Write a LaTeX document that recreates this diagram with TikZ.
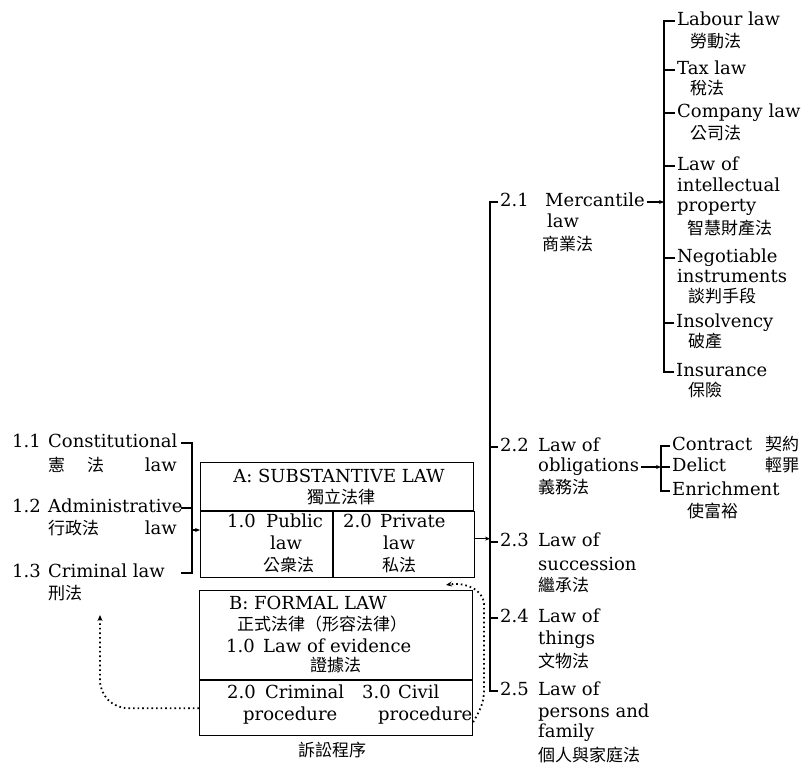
\documentclass[tikz,border=0pt]{standalone}
\usepackage{fontspec}
\setmainfont{DejaVu Serif}
\newfontfamily\cjkfont{Noto Sans CJK TC}
\usetikzlibrary{arrows.meta,positioning}

\newcommand{\numlab}[2]{\makebox[#1][l]{#2}}

\begin{document}
\begin{tikzpicture}[
    x=1pt, y=-1pt,
    every node/.style={inner sep=0pt, text height=11pt, text depth=3pt},
    lat/.style={anchor=west, font=\fontsize{18}{20}\selectfont},
    zh/.style={anchor=west, font=\cjkfont\fontsize{17}{20}\selectfont},
    box/.style={draw, line width=1.1pt, anchor=north west},
    line/.style={line width=1.1pt},
    arr/.style={-{Stealth[length=5pt,width=4pt]}, line width=1.1pt},
    dotarr/.style={-{Stealth[length=6pt,width=5pt]}, line width=1.8pt, dash pattern=on 1.6pt off 3pt},
]
\useasboundingbox (0,0) rectangle (801,766);

% Boxes
\node[box, minimum width=273pt, minimum height=48pt] (Atop) at (200,462) {};
\node[box, minimum width=132pt, minimum height=66pt] (Apub) at (Atop.south west) {};
\node[box, minimum width=141pt, minimum height=66pt] (Apriv) at (Apub.north east) {};
\node[box, minimum width=273pt, minimum height=89pt] (Btop) at (199,590) {};
\node[box, minimum width=273pt, minimum height=55pt] (Bproc) at (Btop.south west) {};

% A: substantive law
\node[lat, anchor=center] (Atitle) at (339,478) {A: SUBSTANTIVE LAW};
\node[zh, anchor=center] (Atitlez) at (341,499) {獨立法律};
\node[lat] (pubA) at (227,523) {\numlab{39pt}{1.0}Public};
\node[lat] (pubB) at (270,545) {law};
\node[zh] (pubC) at (263,567) {公衆法};
\node[lat] (privA) at (343,523) {\numlab{37pt}{2.0}Private};
\node[lat] (privB) at (383,545) {law};
\node[zh] (privC) at (382,567) {私法};

% B: formal law
\node[lat] (Btitle) at (229,605) {B: FORMAL LAW};
\node[zh] (Btitlez) at (237,626) {正式法律（形容法律）};
\node[lat] (evA) at (226,648) {\numlab{37pt}{1.0}Law of evidence};
\node[zh] (evB) at (310,667) {證據法};
\node[lat] (crimA) at (227,694) {\numlab{38pt}{2.0}Criminal};
\node[lat] (crimB) at (243,716) {procedure};
\node[lat] (civA) at (362,694) {\numlab{36pt}{3.0}Civil};
\node[lat] (civB) at (378,716) {procedure};
\node[zh] (proc) at (298,752) {訴訟程序};

% Public law branches
\node[lat] (con) at (12,443) {\numlab{36pt}{1.1}Constitutional};
\node[zh] (conz) at (48,467) {憲\hspace{22pt}法};
\node[lat, anchor=east] (conl) at (177,467) {law};
\node[lat] (adm) at (12,508) {\numlab{36pt}{1.2}Administrative};
\node[zh] (admz) at (48,530) {行政法};
\node[lat, anchor=east] (adml) at (177,530) {law};
\node[lat] (cri) at (12,573) {\numlab{36pt}{1.3}Criminal law};
\node[zh] (criz) at (48,595) {刑法};

% Private law branches
\node[lat] (merc) at (500,202) {\numlab{45pt}{2.1}Mercantile};
\node[lat] (mercb) at (547,223) {law};
\node[zh] (mercc) at (542,246) {商業法};
\node[lat] (obl) at (500,447) {\numlab{38pt}{2.2}Law of};
\node[lat] (oblb) at (538,467) {obligations};
\node[zh] (oblc) at (538,489) {義務法};
\node[lat] (suc) at (500,542) {\numlab{38pt}{2.3}Law of};
\node[lat] (sucb) at (538,566) {succession};
\node[zh] (succ) at (538,587) {繼承法};
\node[lat] (thi) at (500,618) {\numlab{38pt}{2.4}Law of};
\node[lat] (thib) at (538,640) {things};
\node[zh] (thic) at (538,663) {文物法};
\node[lat] (per) at (500,691) {\numlab{38pt}{2.5}Law of};
\node[lat] (perb) at (538,713) {persons and};
\node[lat] (perc) at (538,733) {family};
\node[zh] (perd) at (538,757) {個人與家庭法};

% Mercantile law list
\node[lat] (lab) at (677,21) {Labour law};
\node[zh] (labz) at (690,43) {勞動法};
\node[lat] (tax) at (677,70) {Tax law};
\node[zh] (taxz) at (690,90) {稅法};
\node[lat] (com) at (677,113) {Company law};
\node[zh] (comz) at (690,135) {公司法};
\node[lat] (ip) at (677,166) {Law of};
\node[lat] (ipb) at (677,187) {intellectual};
\node[lat] (ipc) at (677,207) {property};
\node[zh] (ipz) at (687,230) {智慧財產法};
\node[lat] (neg) at (677,258) {Negotiable};
\node[lat] (negb) at (677,278) {instruments};
\node[zh] (negz) at (688,298) {談判手段};
\node[lat] (ins) at (676,323) {Insolvency};
\node[zh] (insz) at (688,343) {破產};
\node[lat] (isr) at (676,372) {Insurance};
\node[zh] (isrz) at (688,392) {保險};

% Obligations list
\node[lat] (ctr) at (672,446) {Contract};
\node[zh] (ctrz) at (765,446) {契約};
\node[lat] (del) at (672,467) {Delict};
\node[zh] (delz) at (765,467) {輕罪};
\node[lat] (enr) at (672,491) {Enrichment};
\node[zh] (enrz) at (687,513) {使富裕};

% Bars
\coordinate (lstub) at (181,0);
\coordinate (lbar) at (192,0);
\coordinate (mbar) at (490,0);
\coordinate (bar2) at (664,0);
\coordinate (bar3) at (661,0);

\draw[line] (con.west -| lstub) -| (cri.west -| lbar) -- (cri.west -| lstub);
\draw[line] (adm.west -| lstub) -- (adm.west -| lbar);
\draw[arr] (admz.west -| lbar) -- (admz.west -| Apub.west);

\draw[arr] ([yshift=6pt]Apriv.east) -- ([yshift=6pt]Apriv.east -| mbar);
\draw[line] ([xshift=-2pt]merc.west) -| (per.west -| mbar) -- ([xshift=-2pt]per.west);
\foreach \n in {obl,suc,thi}
  \draw[line] ([xshift=-2pt]\n.west) -- (\n.west -| mbar);

\draw[arr] ([xshift=2pt]merc.east) -- (merc.east -| bar2);
\draw[line] ([xshift=-2pt]lab.west) -| (isr.west -| bar2) -- ([xshift=-2pt]isr.west);
\foreach \n in {tax,com,ip,neg,ins}
  \draw[line] ([xshift=-2pt]\n.west) -- (\n.west -| bar2);

\draw[arr] ([xshift=2pt]oblb.east) -- (oblb.east -| bar3);
\draw[line] ([xshift=-2pt]ctr.west) -| (enr.west -| bar3) -- ([xshift=-2pt]enr.west);
\draw[line] ([xshift=-2pt]del.west) -- (del.west -| bar3);

% Dotted links
\coordinate (ltip) at (100,615);
\coordinate (rtip) at (446,585);
\draw[dotarr, rounded corners=28pt] (Bproc.west) -| (ltip);
\draw[dotarr] ([yshift=-14pt]Bproc.east) to[out=60,in=-90] (484,690) -- (484,605) to[out=90,in=10] (rtip);
\end{tikzpicture}
\end{document}
